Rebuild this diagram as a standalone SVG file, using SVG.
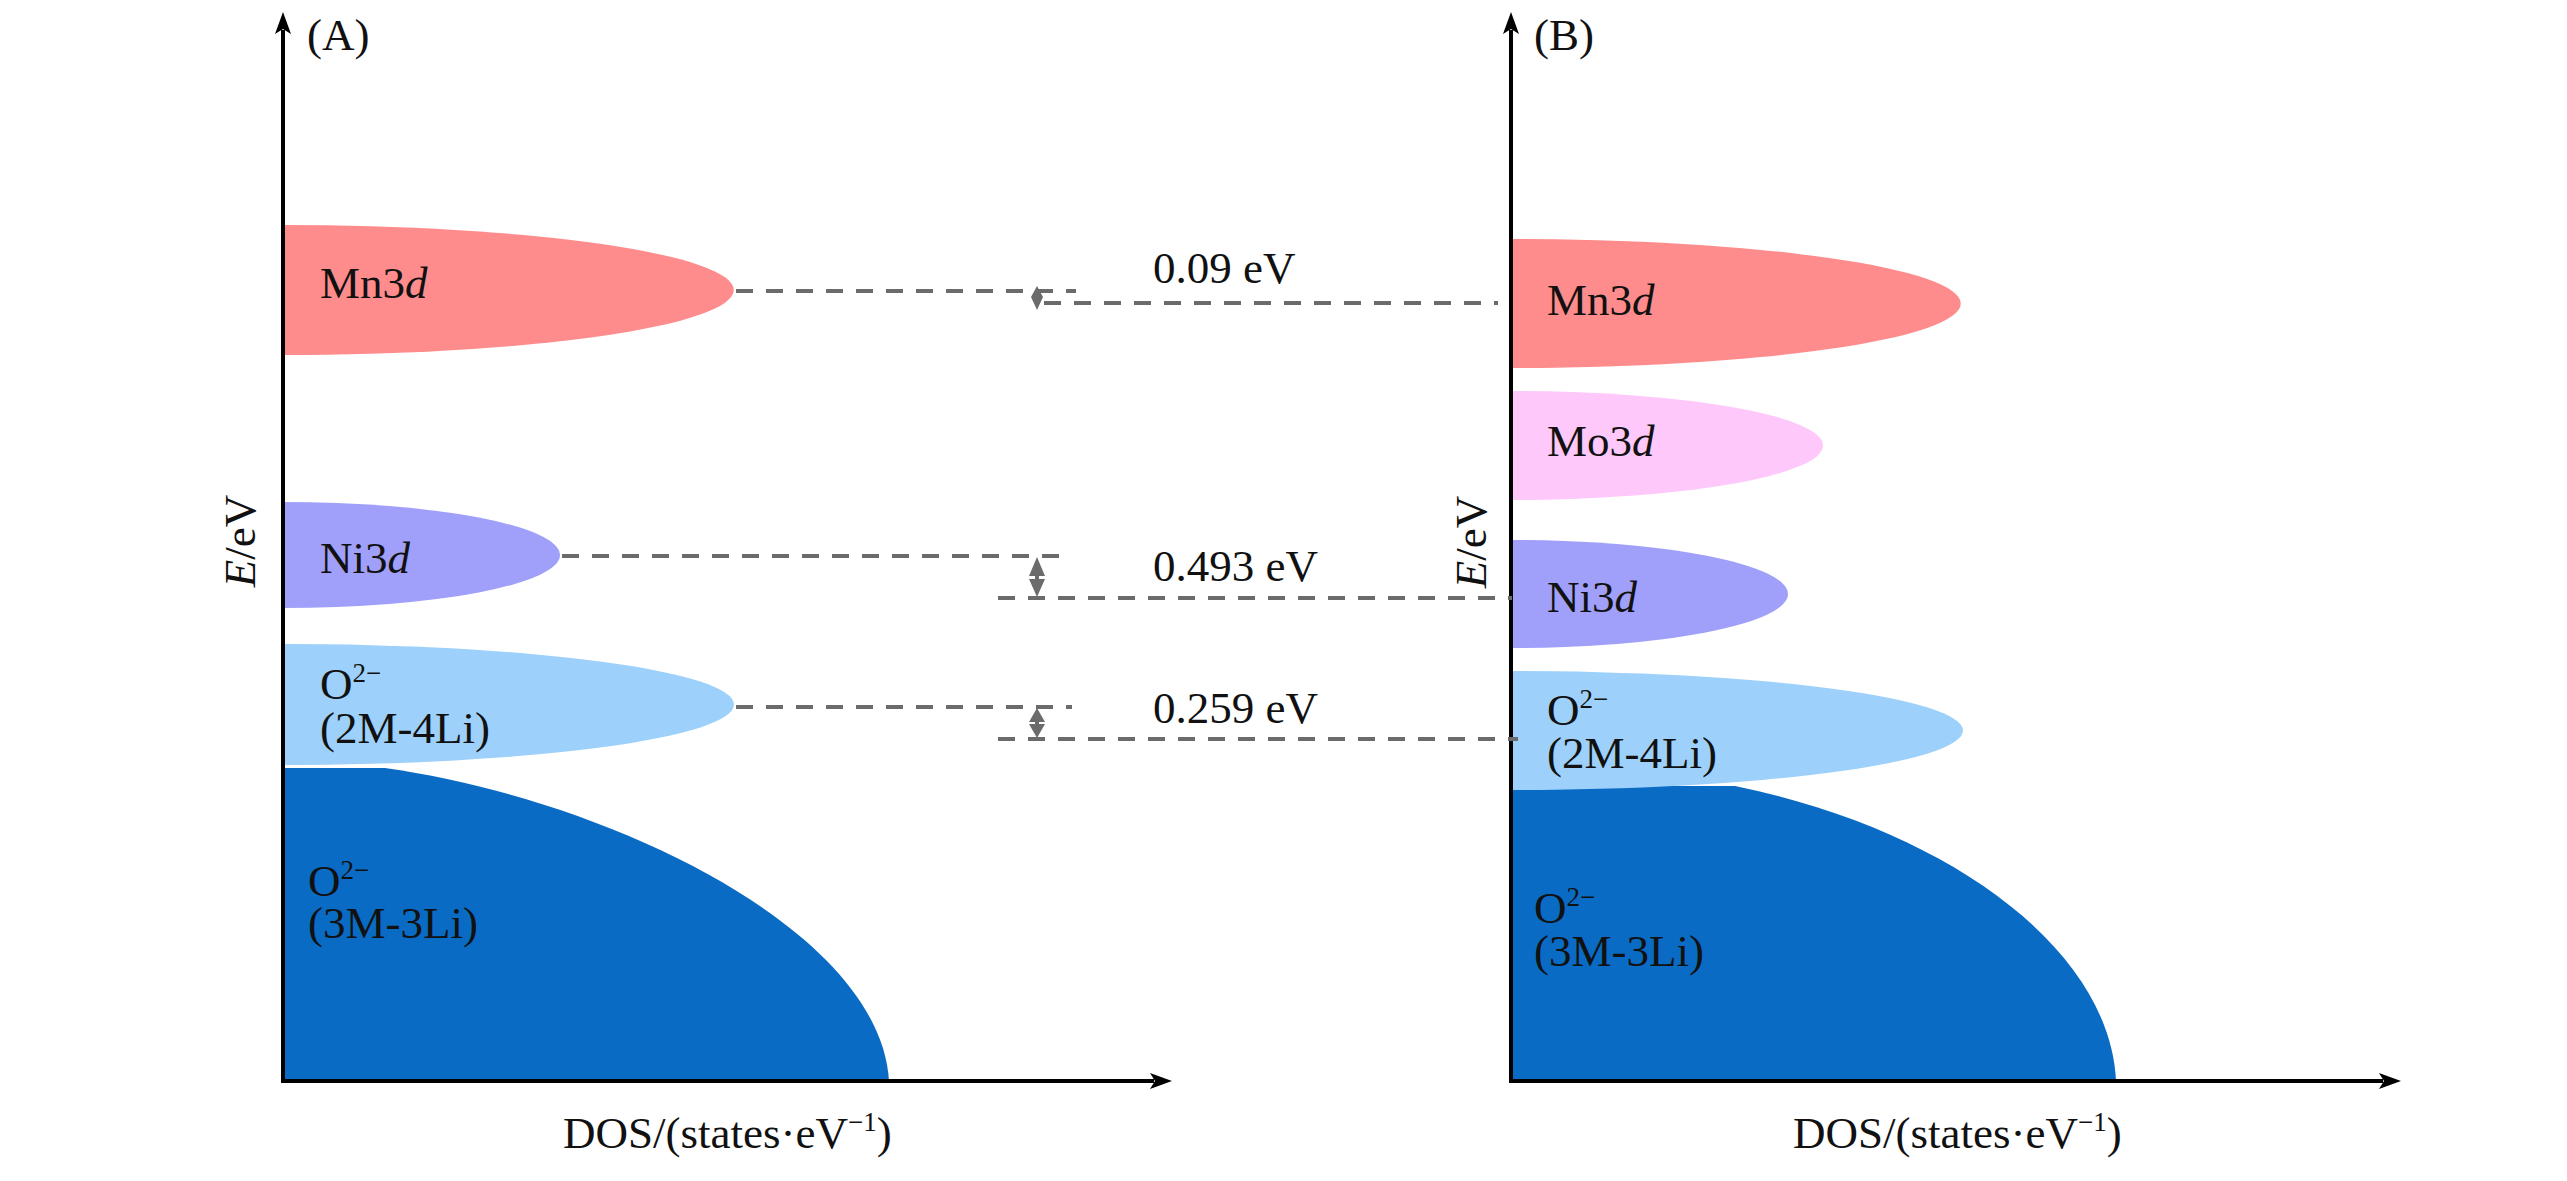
<svg xmlns="http://www.w3.org/2000/svg" width="2567" height="1181" viewBox="0 0 2567 1181">
  <style>
    text { font-family: "Liberation Serif", "Times New Roman", serif; font-size: 45px; fill: #111; }
    .axis { stroke: #000; stroke-width: 4; fill: none; }
    .dash { stroke: #6b6b6b; stroke-width: 4; stroke-dasharray: 17 13; fill: none; }
    .dim { fill: #6b6b6b; stroke: none; }
    .mn { fill: #ff8c8c; }
    .mo { fill: #ffc8fa; }
    .ni { fill: #a0a0fa; }
    .o2 { fill: #9dd1fb; }
    .o3 { fill: #0a6bc5; }
  </style>
  <defs>
    <marker id="ah" markerUnits="userSpaceOnUse" viewBox="-6 -10 26 20" markerWidth="26" markerHeight="20" refX="0" refY="0" orient="auto">
      <path d="M18,0 L-4,-8 L1,0 L-4,8 Z" fill="#000"/>
    </marker>
  </defs>

  <!-- Panel A -->
  <g id="panelA">
    <g id="A-O3M">
      <path class="o3" d="M283,1081 L283,768 L385,768 C610,800 880,930 889,1081 Z"/>
      <text x="308" y="896">O<tspan font-size="27" dy="-17">2−</tspan></text>
      <text x="308" y="938">(3M-3Li)</text>
    </g>
    <g id="A-O2M">
      <path class="o2" d="M283,644 A451,60.5 0 0 1 283,765 Z"/>
      <text x="320" y="699">O<tspan font-size="27" dy="-17">2−</tspan></text>
      <text x="320" y="743">(2M-4Li)</text>
    </g>
    <g id="A-Ni">
      <path class="ni" d="M283,502 A277,53 0 0 1 283,608 Z"/>
      <text x="320" y="573">Ni3<tspan font-style="italic">d</tspan></text>
    </g>
    <g id="A-Mn">
      <path class="mn" d="M283,225 A451,65 0 0 1 283,355 Z"/>
      <text x="320" y="298">Mn3<tspan font-style="italic">d</tspan></text>
    </g>
    <g id="A-axes">
      <line class="axis" x1="283" y1="1083" x2="283" y2="30" marker-end="url(#ah)"/>
      <line class="axis" x1="281" y1="1081" x2="1154" y2="1081" marker-end="url(#ah)"/>
      <text x="307" y="50">(A)</text>
      <text transform="translate(255,541) rotate(-90)" text-anchor="middle"><tspan font-style="italic">E</tspan>/eV</text>
      <text x="563" y="1148">DOS/(states·eV<tspan font-size="27" dy="-17">−1</tspan><tspan dy="17">)</tspan></text>
    </g>
  </g>

  <!-- Panel B -->
  <g id="panelB">
    <g id="B-O3M">
      <path class="o3" d="M1511,1081 L1511,786 L1735,786 C1950,830 2110,950 2116,1081 Z"/>
      <text x="1534" y="923">O<tspan font-size="27" dy="-17">2−</tspan></text>
      <text x="1534" y="966">(3M-3Li)</text>
    </g>
    <g id="B-O2M">
      <path class="o2" d="M1511,671 A452,59.5 0 0 1 1511,790 Z"/>
      <text x="1547" y="725">O<tspan font-size="27" dy="-17">2−</tspan></text>
      <text x="1547" y="768">(2M-4Li)</text>
    </g>
    <g id="B-Ni">
      <path class="ni" d="M1511,540 A277,54 0 0 1 1511,648 Z"/>
      <text x="1547" y="612">Ni3<tspan font-style="italic">d</tspan></text>
    </g>
    <g id="B-Mo">
      <path class="mo" d="M1511,391 A312,54.5 0 0 1 1511,500 Z"/>
      <text x="1547" y="456">Mo3<tspan font-style="italic">d</tspan></text>
    </g>
    <g id="B-Mn">
      <path class="mn" d="M1511,239 A450,64.5 0 0 1 1511,368 Z"/>
      <text x="1547" y="315">Mn3<tspan font-style="italic">d</tspan></text>
    </g>
    <g id="B-axes">
      <line class="axis" x1="1511" y1="1083" x2="1511" y2="30" marker-end="url(#ah)"/>
      <line class="axis" x1="1509" y1="1081" x2="2383" y2="1081" marker-end="url(#ah)"/>
      <text x="1534" y="50">(B)</text>
      <text transform="translate(1486,542) rotate(-90)" text-anchor="middle"><tspan font-style="italic">E</tspan>/eV</text>
      <text x="1793" y="1148">DOS/(states·eV<tspan font-size="27" dy="-17">−1</tspan><tspan dy="17">)</tspan></text>
    </g>
  </g>

  <!-- Connectors -->
  <g id="connectors">
    <line class="dash" x1="736" y1="291" x2="1076" y2="291"/>
    <line class="dash" x1="1044" y1="303" x2="1498" y2="303"/>
    <line class="dash" x1="562" y1="556" x2="1072" y2="556"/>
    <line class="dash" x1="998" y1="598" x2="1512" y2="598"/>
    <line class="dash" x1="736" y1="707" x2="1072" y2="707"/>
    <line class="dash" x1="998" y1="739" x2="1518" y2="739"/>
    <path class="dim" d="M1037,286 L1043,297 L1031,297 Z M1031,297 L1043,297 L1037,310 Z"/>
    <path class="dim" d="M1037,557 L1045,576 L1039,576 L1039,579 L1045,579 L1037,597 L1029,579 L1035,579 L1035,576 L1029,576 Z"/>
    <path class="dim" d="M1037,708 L1045,722 L1039,722 L1039,724 L1045,724 L1037,738 L1029,724 L1035,724 L1035,722 L1029,722 Z"/>
    <text x="1153" y="283">0.09 eV</text>
    <text x="1153" y="581">0.493 eV</text>
    <text x="1153" y="723">0.259 eV</text>
  </g>
</svg>
